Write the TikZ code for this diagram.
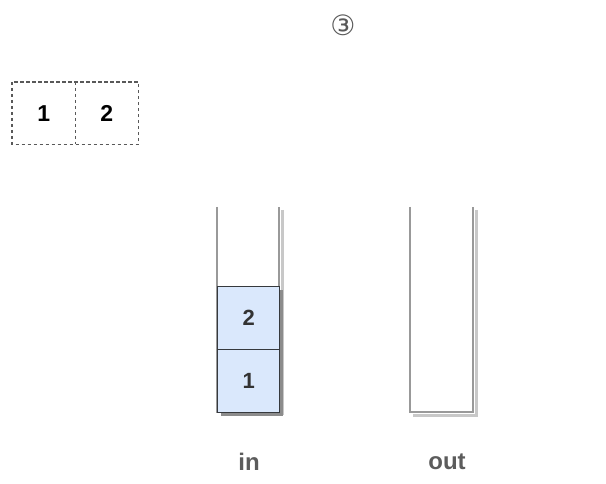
\documentclass[tikz,border=0pt]{standalone}
\usepackage{fontspec}
\setmainfont{Liberation Sans}
\newfontfamily\symfont{DejaVu Sans}
\usetikzlibrary{shadows}
\definecolor{cellfill}{HTML}{DAE8FC}
\definecolor{celldraw}{HTML}{36393D}
\definecolor{wallgray}{HTML}{999999}
\definecolor{wallshadow}{HTML}{C8C8C8}
\definecolor{labelgray}{HTML}{5C5C5C}
\definecolor{textdark}{HTML}{333333}
\tikzset{
  pendingcell/.style={minimum width=63pt, minimum height=62pt, inner sep=0pt, anchor=north west,
    font=\fontsize{23}{23}\selectfont\bfseries, text=black},
  pendingline/.style={draw=black!65, dash pattern=on 3.5pt off 2.5pt, line width=1.1pt},
  stackcell/.style={draw=celldraw, fill=cellfill, line width=1.4pt,
    minimum width=62pt, minimum height=63pt, inner sep=0pt, anchor=north west,
    font=\fontsize{22}{22}\selectfont\bfseries, text=textdark,
    drop shadow={shadow xshift=3pt, shadow yshift=-3pt, fill=black!45, opacity=1}},
  wall/.style={draw=wallgray, line width=1.8pt},
  wallshade/.style={draw=wallshadow, line width=3pt},
  stacklabel/.style={font=\fontsize{24}{24}\selectfont\bfseries, text=labelgray},
}
\begin{document}
\begin{tikzpicture}[x=1pt,y=-1pt]
\useasboundingbox (0,0) rectangle (606,484);
% step marker
\node[font=\symfont\fontsize{28}{28}\selectfont, text=black!65] (mark) at (343,25) {③};
% pending elements
\node[pendingcell] (p1) at (12,82) {1};
\node[pendingcell] (p2) at (75,82) {2};
\draw[pendingline] (p1.north west) rectangle (p2.south east);
\draw[pendingline] (p1.north east) -- (p1.south east);
% in stack walls
\coordinate (intl) at (217,207);
\coordinate (intr) at (279,207);
\coordinate (inbl) at (217,412);
\coordinate (inbr) at (279,412);
\draw[wallshade] ([shift={(3,3)}]intr) -- ([shift={(3,3)}]inbr);
\draw[wall] (intl) -- (inbl) -- (inbr) -- (intr);
% in stack elements
\node[stackcell] (s2) at (217,286) {2};
\node[stackcell] (s1) at (217,349) {1};
% out stack walls
\coordinate (outtl) at (410,207);
\coordinate (outtr) at (473,207);
\coordinate (outbl) at (410,412);
\coordinate (outbr) at (473,412);
\draw[wallshade] ([shift={(3,3)}]outbl) -- ([shift={(3,3)}]outbr) -- ([shift={(3,3)}]outtr);
\draw[wall] (outtl) -- (outbl) -- (outbr) -- (outtr);
% labels
\node[stacklabel] (inlab) at (249,462) {in};
\node[stacklabel] (outlab) at (447,462) {out};
\end{tikzpicture}
\end{document}
